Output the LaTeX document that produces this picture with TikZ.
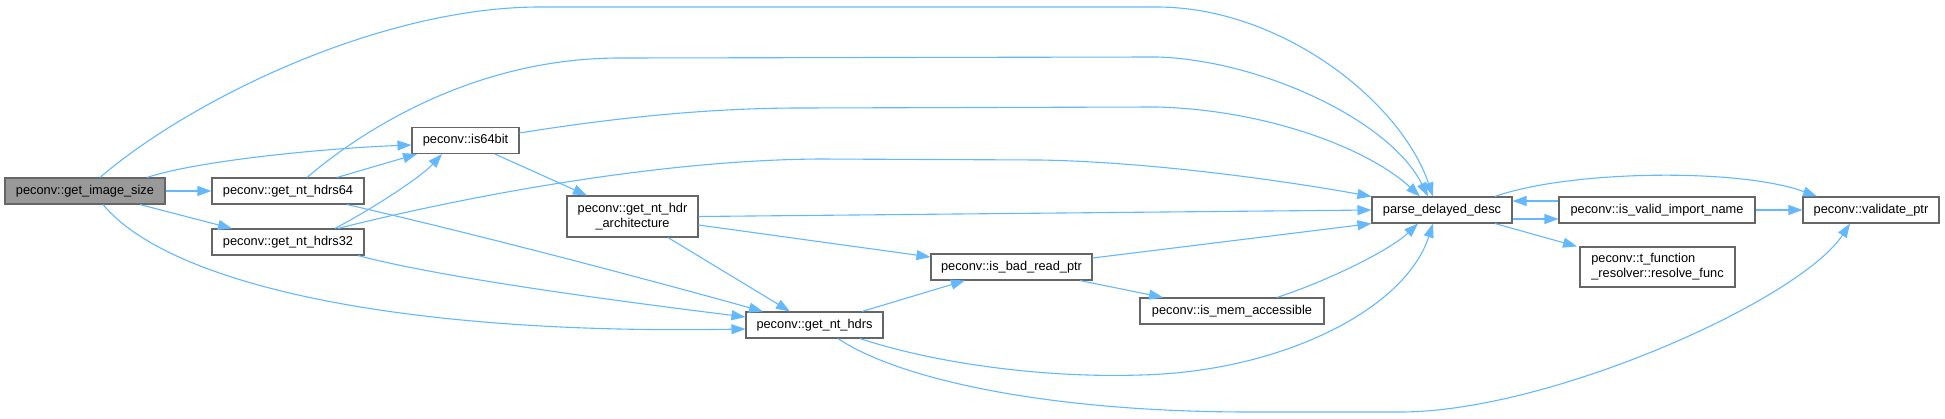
\documentclass[tikz,border=0pt]{standalone}
\usepackage{fontspec}
\setmainfont{Liberation Sans}
\usetikzlibrary{arrows.meta}
\definecolor{edgeblue}{HTML}{63B8FF}
\definecolor{nodeborder}{HTML}{666666}
\definecolor{rootfill}{HTML}{999999}
\begin{document}
\begin{tikzpicture}[x=1pt,y=-1pt,
  fn/.style={draw=nodeborder, line width=1.1pt, fill=white, inner sep=0pt,
    minimum height=26pt, font=\fontsize{12.8}{15}\selectfont, text=black},
  root/.style={fn, fill=rootfill},
  edge/.style={draw=edgeblue, line width=1.1pt, -{Triangle[length=14pt,width=10pt]}}]
\path[use as bounding box] (0,0) rectangle (1945,418);

\node[root, minimum width=160pt] (gis) at (85,191) {peconv::get\_image\_size};
\node[fn, minimum width=152pt] (h64) at (288,191) {peconv::get\_nt\_hdrs64};
\node[fn, minimum width=152pt] (h32) at (288,242) {peconv::get\_nt\_hdrs32};
\node[fn, minimum width=107pt] (is64) at (465.5,140.5) {peconv::is64bit};
\node[fn, minimum width=131pt, minimum height=41pt, align=center] (arch) at (632.5,216.5) {peconv::get\_nt\_hdr\\\_architecture};
\node[fn, minimum width=137pt] (hdrs) at (814.5,325) {peconv::get\_nt\_hdrs};
\node[fn, minimum width=161pt] (bad) at (1011.5,267) {peconv::is\_bad\_read\_ptr};
\node[fn, minimum width=184pt] (mem) at (1232,311) {peconv::is\_mem\_accessible};
\node[fn, minimum width=140pt] (parse) at (1442,210) {parse\_delayed\_desc};
\node[fn, minimum width=196pt] (valid) at (1657,210) {peconv::is\_valid\_import\_name};
\node[fn, minimum width=136pt] (validate) at (1871,210) {peconv::validate\_ptr};
\node[fn, minimum width=155pt, minimum height=40pt, align=left] (tfunc) at (1657.5,267) {peconv::t\_function\\\_resolver::resolve\_func};

% edges
\draw[edge] ([xshift=15pt]gis.north) .. controls (190,100) and (380,7) .. (540,7) -- (1157,7) .. controls (1280,7) and (1400,100) .. ([xshift=-9pt]parse.north);
\draw[edge] ([xshift=62pt]gis.north) .. controls (200,160) and (330,148) .. ([yshift=-4.5pt]is64.west);
\draw[edge] (gis.east) -- (h64.west);
\draw[edge] ([xshift=55pt]gis.south) -- ([xshift=-56pt]h32.north);
\draw[edge] ([xshift=18pt]gis.south) .. controls (170,285) and (400,335) .. ([yshift=-4pt]hdrs.west);

\draw[edge] ([xshift=19pt]h64.north) .. controls (345,145) and (460,58) .. (620,58) -- (1157,57) .. controls (1260,60) and (1390,120) .. ([xshift=-14pt]parse.north);
\draw[edge] ([xshift=49pt]h64.north) -- ([xshift=-48.5pt]is64.south);
\draw[edge] ([xshift=59pt]h64.south) .. controls (480,235) and (650,280) .. ([xshift=-51.5pt]hdrs.north);

\draw[edge] ([xshift=47pt]h32.north) .. controls (370,210) and (420,178) .. ([xshift=-23.5pt]is64.south);
\draw[edge] ([xshift=50pt]h32.north) .. controls (430,205) and (640,160) .. (820,159) -- (1040,160) .. controls (1150,162) and (1280,180) .. (parse.north west);
\draw[edge] ([xshift=70pt]h32.south) .. controls (450,280) and (650,305) .. ([yshift=8pt]hdrs.west);

\draw[edge] ([yshift=7.5pt]is64.east) .. controls (600,120) and (700,108) .. (800,108) -- (1157,107) .. controls (1270,110) and (1370,150) .. ([xshift=-22pt]parse.north);
\draw[edge] ([xshift=29.5pt]is64.south) -- ([xshift=-45.5pt]arch.north);

\draw[edge] (arch.east) -- (parse.west);
\draw[edge] ([yshift=-8.5pt]arch.east) -- ([yshift=10pt]bad.west);
\draw[edge] ([xshift=35.5pt]arch.south) -- ([xshift=-24.5pt]hdrs.north);

\draw[edge] ([xshift=47.5pt]hdrs.north) -- ([xshift=-46.5pt]bad.south);
\draw[edge] ([xshift=45.5pt]hdrs.south) .. controls (940,365) and (1050,378) .. (1140,375) .. controls (1280,372) and (1405,310) .. ([xshift=-9pt]parse.south);
\draw[edge] ([xshift=23.5pt]hdrs.south) .. controls (900,380) and (1050,412) .. (1250,412) -- (1400,412) .. controls (1550,412) and (1800,300) .. ([xshift=-21pt]validate.south);

\draw[edge] ([yshift=9pt]bad.east) -- (parse.south west);
\draw[edge] ([xshift=68.5pt]bad.south) -- ([xshift=-69pt]mem.north);
\draw[edge] ([xshift=45pt]mem.north) .. controls (1330,280) and (1390,250) .. ([xshift=-24pt]parse.south);

\draw[edge] ([yshift=-9pt]parse.east) -- ([yshift=-9pt]valid.west);
\draw[edge] ([yshift=9pt]valid.west) -- ([yshift=9pt]parse.east);
\draw[edge] ([xshift=53pt]parse.north) .. controls (1570,170) and (1740,168) .. ([xshift=-54pt]validate.north);
\draw[edge] ([xshift=53pt]parse.south) -- ([xshift=-80.5pt]tfunc.north);
\draw[edge] (valid.east) -- (validate.west);
\end{tikzpicture}
\end{document}
